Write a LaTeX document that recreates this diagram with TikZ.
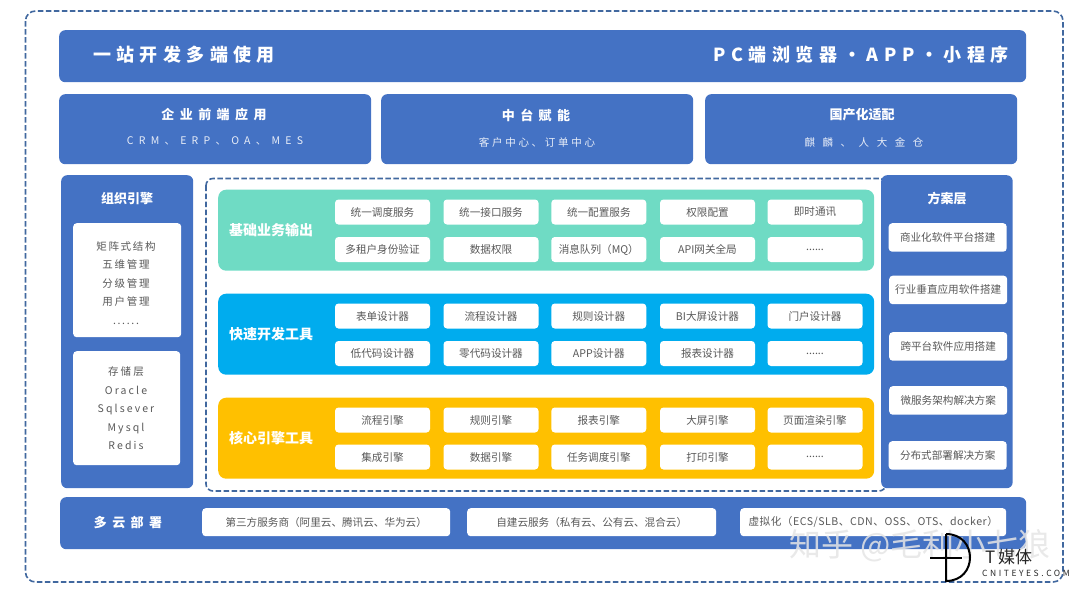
\documentclass[tikz,border=0pt]{standalone}
\usepackage{fontspec}
\setmainfont{Noto Sans CJK SC}
\usepackage{tikz}
\usetikzlibrary{positioning}
\definecolor{barblue}{RGB}{68,114,196}
\definecolor{dashblue}{RGB}{65,104,159}
\definecolor{bandteal}{RGB}{111,219,196}
\definecolor{bandsky}{RGB}{0,172,238}
\definecolor{bandgold}{RGB}{255,192,0}
\definecolor{itemgray}{RGB}{89,89,89}
\begin{document}
\begin{tikzpicture}[x=1pt,y=-1pt,
panel/.style={rectangle,rounded corners=6pt,fill=barblue,inner sep=0pt,anchor=north west},
band/.style={rectangle,rounded corners=8pt,inner sep=0pt,anchor=north west,minimum width=656pt,minimum height=81pt},
whitebox/.style={rectangle,rounded corners=3.5pt,fill=white,inner sep=0pt,anchor=north west,text=itemgray,font={\fontsize{10.6}{13}\selectfont}},
item/.style={whitebox,anchor=center,minimum width=95pt,minimum height=25pt},
planbox/.style={whitebox,minimum width=118pt,minimum height=28.5pt},
cloudbox/.style={whitebox,minimum height=28pt},
frame/.style={dashblue,line width=1.6pt,dash pattern=on 5.5pt off 2.5pt},
bartitle/.style={text=white,inner sep=0pt,font={\fontsize{18}{22}\bfseries\addfontfeature{LetterSpace=#1}}},
cardtitle/.style={text=white,font={\fontsize{13}{16}\bfseries\addfontfeature{LetterSpace=42}}},
cardtext/.style={text=white!88!barblue,font={\fontsize{10.5}{13}\selectfont\addfontfeature{LetterSpace=#1}}},
sidetitle/.style={text=white,font={\fontsize{13}{16}\bfseries}},
bandtitle/.style={text=white,inner sep=0pt,font={\fontsize{14}{17}\bfseries}},
listtext/.style={text=itemgray,align=center,font={\fontsize{10.5}{18.5}\selectfont\addfontfeature{LetterSpace=#1}}}]
\useasboundingbox (0,0) rectangle (1080,592);
\draw [frame,rounded corners=10pt] (25.5,11) rectangle (1063,582);
% top rows
\node [panel,minimum width=967pt,minimum height=52pt](topbar) at (59,30) {};
\node [bartitle=30,anchor=west](toptitle) at (93,55) {一站开发多端使用};
\node [bartitle=31,anchor=east](topright) at (1009,55) {PC端浏览器·APP·小程序};
\node [panel,minimum width=312pt,minimum height=70pt](appcard) at (59,94) {};
\node [panel,minimum width=312pt,minimum height=70pt](midcard) at (381,94) {};
\node [panel,minimum width=312pt,minimum height=70pt](loccard) at (705,94) {};
\node [cardtitle](apptitle) at (214,115) {企业前端应用};
\node [cardtext=50](apptext) at (215,141) {CRM、ERP、OA、MES};
\node [cardtitle](midtitle) at (536,115) {中台赋能};
\node [cardtext=26](midtext) at (537,142) {客户中心、订单中心};
\node [sidetitle](loctitle) at (862,115) {国产化适配};
\node [cardtext=72](loctext) at (864,142) {麒麟、人大金仓};
% left panel
\node [panel,minimum width=132pt,minimum height=313pt](orgpanel) at (61,175) {};
\node [sidetitle](orgtitle) at (127,199) {组织引擎};
\node [whitebox,minimum width=108pt,minimum height=114pt](orgbox) at (73,223) {};
\node [listtext=16](orgtext) at (126,283) {矩阵式结构\\五维管理\\分级管理\\用户管理\\......};
\node [whitebox,minimum width=107pt,minimum height=114pt](storebox) at (73,351) {};
\node [listtext=20](storetext) at (126,408.5) {存储层\\Oracle\\Sqlsever\\Mysql\\Redis};
% middle
\draw [frame,rounded corners=7pt] (206,178.5) rectangle (886,491);
\node [band,fill=bandteal](baseband) at (218,189.5) {};
\node [bandtitle,anchor=west](basetitle) at (229,230) {基础业务输出};
\node [item](base11) at (382.5,212) {统一调度服务};
\node [item](base12) at (491,212) {统一接口服务};
\node [item](base13) at (598.8,212) {统一配置服务};
\node [item](base14) at (707.5,212) {权限配置};
\node [item](base15) at (815,212) {即时通讯};
\node [item](base21) at (382.5,249.5) {多租户身份验证};
\node [item](base22) at (491,249.5) {数据权限};
\node [item](base23) at (598.8,249.5) {消息队列（MQ）};
\node [item](base24) at (707.5,249.5) {API网关全局};
\node [item](base25) at (815,249.5) {......};
\node [band,fill=bandsky](fastband) at (218,293.5) {};
\node [bandtitle,anchor=west](fasttitle) at (229,334) {快速开发工具};
\node [item](fast11) at (382.5,316) {表单设计器};
\node [item](fast12) at (491,316) {流程设计器};
\node [item](fast13) at (598.8,316) {规则设计器};
\node [item](fast14) at (707.5,316) {BI大屏设计器};
\node [item](fast15) at (815,316) {门户设计器};
\node [item](fast21) at (382.5,353.5) {低代码设计器};
\node [item](fast22) at (491,353.5) {零代码设计器};
\node [item](fast23) at (598.8,353.5) {APP设计器};
\node [item](fast24) at (707.5,353.5) {报表设计器};
\node [item](fast25) at (815,353.5) {......};
\node [band,fill=bandgold](coreband) at (218,397.5) {};
\node [bandtitle,anchor=west](coretitle) at (229,438) {核心引擎工具};
\node [item](core11) at (382.5,420) {流程引擎};
\node [item](core12) at (491,420) {规则引擎};
\node [item](core13) at (598.8,420) {报表引擎};
\node [item](core14) at (707.5,420) {大屏引擎};
\node [item](core15) at (815,420) {页面渲染引擎};
\node [item](core21) at (382.5,457) {集成引擎};
\node [item](core22) at (491,457) {数据引擎};
\node [item](core23) at (598.8,457) {任务调度引擎};
\node [item](core24) at (707.5,457) {打印引擎};
\node [item](core25) at (815,457) {......};
% right panel
\node [panel,minimum width=131.5pt,minimum height=313pt](planpanel) at (881,175) {};
\node [sidetitle](plantitle) at (947,199) {方案层};
\node [planbox](plan1) at (888.5,223) {商业化软件平台搭建};
\node [planbox](plan2) at (889,275.5) {行业垂直应用软件搭建};
\node [planbox](plan3) at (889,332) {跨平台软件应用搭建};
\node [planbox](plan4) at (889,386) {微服务架构解决方案};
\node [planbox](plan5) at (888.5,441) {分布式部署解决方案};
% bottom bar
\node [panel,minimum width=966pt,minimum height=52pt](cloudbar) at (60,497) {};
\node [cardtitle](cloudtitle) at (128,523) {多云部署};
\node [cloudbox,minimum width=248pt](cloud1) at (202,508) {第三方服务商（阿里云、腾讯云、华为云）};
\node [cloudbox,minimum width=249pt](cloud2) at (467,508) {自建云服务（私有云、公有云、混合云）};
\node [cloudbox,minimum width=266pt,font={\fontsize{10.6}{13}\selectfont\addfontfeature{LetterSpace=5}}](cloud3) at (740,508) {虚拟化（ECS/SLB、CDN、OSS、OTS、docker）};
% watermark and logo
\node [text=white!80!gray,text opacity=0.85,font={\fontsize{32}{38}\selectfont}](zhihumark) at (920,546) {知乎 @毛利小七狼};
\draw [black,line width=2pt] (946,534) -- (946,581) .. controls (978,581) and (978,534) .. (946,534);
\draw [black,line width=2pt] (930,558) -- (962,558);
\node [text=black!85,anchor=west,inner sep=0pt,font={\fontsize{17}{21}\selectfont}](logotext) at (985,557) {T\,媒体};
\node [text=black!85,anchor=west,inner sep=0pt,font={\fontsize{8.5}{10}\selectfont\addfontfeature{LetterSpace=30}}](logosite) at (982,573) {CNITEYES.COM};
\end{tikzpicture}
\end{document}
